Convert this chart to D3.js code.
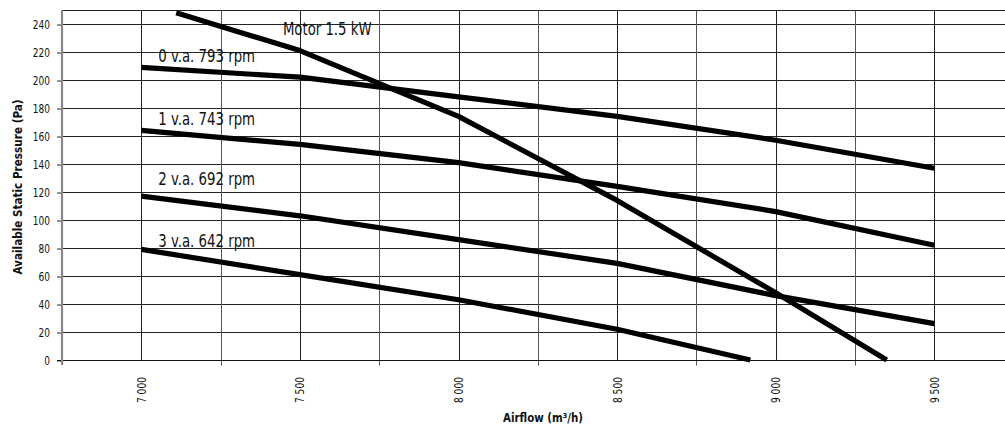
<!DOCTYPE html>
<html>
<head>
<meta charset="utf-8">
<script src="https://cdn.jsdelivr.net/npm/d3@7"></script>
<style>
  html, body { margin: 0; padding: 0; background: #fff; }
  svg { display: block; }
  text { font-family: "DejaVu Sans Condensed", "Liberation Sans Narrow", sans-serif; fill: #111; }
</style>
</head>
<body>
<svg id="chart" width="1005" height="428"></svg>
<script>
// Fan curves: airflow (m³/h) vs available static pressure (Pa)
const seriesNames = ["0 v.a. 793 rpm", "1 v.a. 743 rpm", "2 v.a. 692 rpm", "3 v.a. 642 rpm"];
const speed0 = [[7000, 209], [7500, 202], [8000, 188], [8500, 174], [9000, 157], [9500, 137]];
const speed1 = [[7000, 164], [7500, 154], [8000, 141], [8500, 124], [9000, 106], [9500, 82]];
const speed2 = [[7000, 117], [7500, 103], [8000, 86], [8500, 69], [9000, 46], [9500, 26]];
const speed3 = [[7000, 79], [7500, 61], [8000, 43], [8500, 22], [8920, 0]];
const motorName = "Motor 1.5 kW";
const motorLimit = [[7110, 248], [7500, 221], [8000, 174], [8500, 114], [9000, 48], [9350, 0]];

const xTickValues = [7000, 7500, 8000, 8500, 9000, 9500];
const xTickLabels = ["7 000", "7 500", "8 000", "8 500", "9 000", "9 500"];
const xMinorValues = [7250, 7750, 8250, 8750, 9250];
const yTickValues = [0, 20, 40, 60, 80, 100, 120, 140, 160, 180, 200, 220, 240];
const xTitle = "Airflow (m³/h)";
const yTitle = "Available Static Pressure (Pa)";

const svg = d3.select("#chart");
const plotLeft = 62, plotTop = 10, plotBottom = 360;
const narrow = 0.8; // horizontal squeeze giving a condensed face

const x = d3.scaleLinear().domain([6750, 9750]).range([plotLeft, plotLeft + 12 * 79.3]);
const y = d3.scaleLinear().domain([0, 250]).range([plotBottom, plotTop]);
const crisp = v => Math.round(v) + 0.5;

// horizontal grid lines and top border
const grid = svg.append("g").attr("stroke", "#222").attr("stroke-width", 1);
grid.selectAll("line.h")
  .data(yTickValues.concat([250]))
  .join("line")
  .attr("class", "h")
  .attr("x1", plotLeft).attr("x2", 1005)
  .attr("y1", d => crisp(y(d))).attr("y2", d => crisp(y(d)));

// vertical grid lines: labelled ones stop at the axis, the in-between ones tick below it
grid.selectAll("line.v")
  .data(xTickValues)
  .join("line")
  .attr("class", "v")
  .attr("x1", d => crisp(x(d))).attr("x2", d => crisp(x(d)))
  .attr("y1", crisp(y(250))).attr("y2", crisp(y(0)));
grid.selectAll("line.vm")
  .data(xMinorValues)
  .join("line")
  .attr("class", "vm")
  .attr("stroke", "#555")
  .attr("x1", d => crisp(x(d))).attr("x2", d => crisp(x(d)))
  .attr("y1", crisp(y(250))).attr("y2", crisp(y(0)) + 5);

// x axis baseline
svg.append("line")
  .attr("x1", plotLeft - 5).attr("x2", 1005)
  .attr("y1", crisp(y(0))).attr("y2", crisp(y(0)))
  .attr("stroke", "#111").attr("stroke-width", 1);

// y axis ticks (labels drawn separately so they can be condensed)
const yAxis = d3.axisLeft(y).tickValues(yTickValues).tickSize(5).tickFormat("");
const yg = svg.append("g").attr("transform", `translate(${plotLeft},0)`).call(yAxis);
yg.select(".domain").remove();
yg.selectAll(".tick line").attr("stroke", "#222").attr("transform", "translate(0,0.5)");
svg.append("g").selectAll("text")
  .data(yTickValues)
  .join("text")
  .attr("transform", d => `translate(50,${y(d) + 0.5}) scale(${narrow},1)`)
  .attr("text-anchor", "end")
  .attr("dy", "0.35em")
  .attr("font-size", 12.5)
  .text(d3.format("d"));
svg.append("line")
  .attr("x1", plotLeft).attr("x2", plotLeft)
  .attr("y1", y(250)).attr("y2", y(0) + 5)
  .attr("stroke", "#888").attr("stroke-width", 2.2);

// x tick labels, rotated
svg.append("g").selectAll("text")
  .data(xTickValues)
  .join("text")
  .attr("transform", d => `translate(${x(d)},377) rotate(-90) scale(0.78,1)`)
  .attr("text-anchor", "end")
  .attr("dy", "0.35em")
  .attr("font-size", 13)
  .text((d, i) => xTickLabels[i]);

// axis titles
svg.append("text")
  .attr("transform", "translate(543,422) scale(0.88,1)")
  .attr("text-anchor", "middle")
  .attr("font-size", 13).attr("font-weight", "bold")
  .text(xTitle);
svg.append("text")
  .attr("transform", "translate(22,187) rotate(-90) scale(0.93,1)")
  .attr("text-anchor", "middle")
  .attr("font-size", 12.5).attr("font-weight", "bold")
  .text(yTitle);

// curves
const line = d3.line().x(d => x(d[0])).y(d => y(d[1]));
const curves = [speed0, speed1, speed2, speed3, motorLimit];
svg.append("g").selectAll("path")
  .data(curves)
  .join("path")
  .attr("d", line)
  .attr("fill", "none")
  .attr("stroke", "#000")
  .attr("stroke-width", 5.2)
  .attr("stroke-linejoin", "round");

// curve labels placed above the start of each speed curve
const labelDy = [-5, -5.5, -11, -2.5];
const speeds = [speed0, speed1, speed2, speed3];
svg.append("g").selectAll("text")
  .data(seriesNames)
  .join("text")
  .attr("transform", (d, i) =>
    `translate(${x(speeds[i][0][0]) + 17},${y(speeds[i][0][1]) + labelDy[i]}) scale(${narrow},1)`)
  .attr("font-size", 18.5)
  .text(d => d);
svg.append("text")
  .attr("transform",
    `translate(${x(motorLimit[1][0]) - 17},${y(motorLimit[1][1]) - 15.5}) scale(0.82,1)`)
  .attr("font-size", 18)
  .text(motorName);
</script>
</body>
</html>
